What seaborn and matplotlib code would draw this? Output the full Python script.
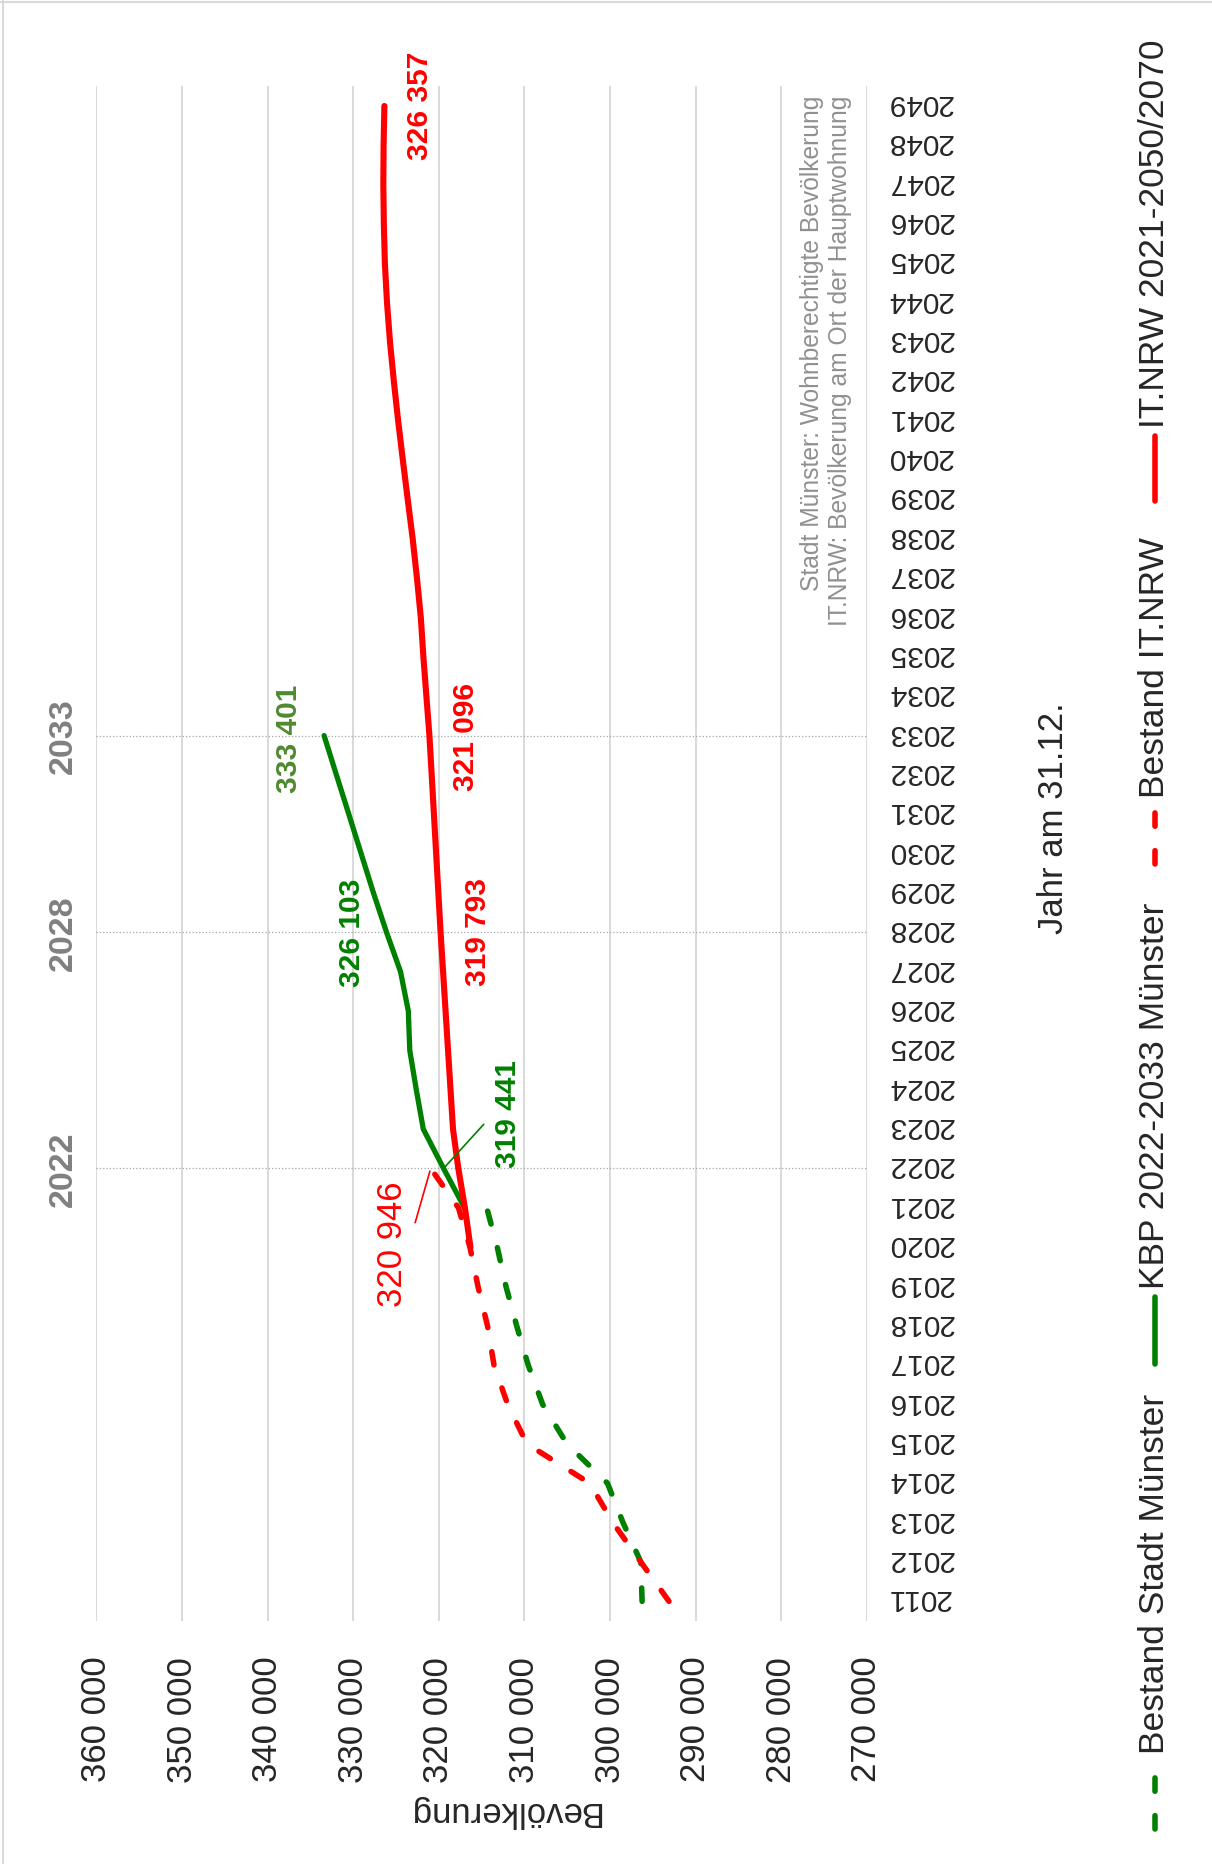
import pandas as pd
import seaborn as sns
import matplotlib.pyplot as plt
from matplotlib.lines import Line2D
from matplotlib.transforms import ScaledTranslation

# Daten
jahre_bestand = list(range(2011, 2022))
bestand_muenster = [296250, 296400, 298480, 300290, 305020, 307860,
                    309550, 310900, 312150, 313170, 314400]

jahre_bestand_it = list(range(2011, 2023))
bestand_itnrw = [293110, 296400, 299660, 302360, 309700, 311950,
                 313550, 314310, 315420, 316360, 317700, 320946]

jahre_kbp = list(range(2021, 2034))
kbp_muenster = [317000, 319441, 321810, 322630, 323390, 323560, 324470,
                326103, 327630, 329070, 330510, 331960, 333401]

jahre_it = list(range(2020, 2050))
itnrw_prognose = [316300, 316950, 317720, 318340, 318630, 318920, 319210,
                  319500, 319793, 320050, 320310, 320570, 320830, 321096,
                  321450, 321800, 322100, 322550, 323050, 323630, 324200,
                  324750, 325250, 325700, 326050, 326300, 326420, 326480,
                  326450, 326357]

pop_ticks = [360000, 350000, 340000, 330000, 320000, 310000, 300000,
             290000, 280000, 270000]
pop_labels = ['360 000', '350 000', '340 000', '330 000', '320 000',
              '310 000', '300 000', '290 000', '280 000', '270 000']
jahr_ticks = list(range(2011, 2050))
ref_jahre = [2022, 2028, 2033]

GRUEN = '#008000'
ROT = '#ff0000'
W, H = 1212, 1865


def fig_xy(x, y):
    return x / W, 1 - y / H


sns.set_style('white')
plt.rcParams['font.family'] = ['Liberation Sans', 'DejaVu Sans']

fig = plt.figure(figsize=(W / 100, H / 100), dpi=100)
ax = fig.add_axes([96.4 / W, 1 - 1622 / H, (866.8 - 96.4) / W, (1622 - 87.3) / H])

dash = (0, (2.4, 4.4))
sns.lineplot(x=bestand_muenster, y=jahre_bestand, sort=False, ax=ax, color=GRUEN,
             lw=4.0, linestyle=dash, dash_capstyle='round')
sns.lineplot(x=kbp_muenster, y=jahre_kbp, sort=False, ax=ax, color=GRUEN,
             lw=3.8, solid_capstyle='round')
sns.lineplot(x=bestand_itnrw, y=jahre_bestand_it, sort=False, ax=ax, color=ROT,
             lw=4.0, linestyle=dash, dash_capstyle='round')
sns.lineplot(x=itnrw_prognose, y=jahre_it, sort=False, ax=ax, color=ROT,
             lw=4.4, solid_capstyle='round')

ax.set_xlim(360000, 270000)
ax.set_ylim(2010.5, 2049.5)
ax.set_xticks(pop_ticks)
ax.set_xticklabels(pop_labels)
ax.set_yticks(jahr_ticks)
ax.set_yticklabels([str(j) for j in jahr_ticks])
ax.yaxis.tick_right()
ax.tick_params(axis='x', length=0, pad=25, labelrotation=90, labelsize=25)
ax.tick_params(axis='y', length=0, pad=14.4, labelrotation=180, labelsize=21.5)
hoch = ScaledTranslation(0, 4 / 100, fig.dpi_scale_trans)
for t in ax.get_yticklabels():
    t.set_va('center')
    t.set_transform(t.get_transform() + hoch)
ax.grid(axis='x', color='#d9d9d9', lw=1.4)
ax.grid(axis='y', visible=False)
for s in ax.spines.values():
    s.set_visible(False)

for j in ref_jahre:
    ax.axhline(j, color='#a6a6a6', lw=0.9, ls=':', zorder=1)
    ax.annotate(str(j), xy=(360000, j), xytext=(-33, 0), textcoords='offset pixels',
                rotation=90, ha='center', va='center', fontsize=24.5,
                fontweight='bold', color='#808080', annotation_clip=False)

ax.set_xlabel('Bevölkerung', rotation=180, fontsize=25)
ax.xaxis.set_label_coords(0.529, -0.1238)
ax.xaxis.label.set_va('center')
ax.yaxis.set_label_position('right')
ax.set_ylabel('Jahr am 31.12.', rotation=90, fontsize=25)
ax.yaxis.set_label_coords(1.2417, 0.5239)
ax.yaxis.label.set_va('center')

# Datenbeschriftungen
def label(txt, x, y, dx, dy, color, bold=True, size=21.5):
    ax.annotate(txt, xy=(x, y), xytext=(dx, dy), textcoords='offset pixels',
                rotation=90, ha='center', va='center', fontsize=size,
                fontweight='bold' if bold else 'normal', color=color)

label('333 401', kbp_muenster[-1], jahre_kbp[-1], -35, -2, '#4f8a2f')
label('326 103', kbp_muenster[7], jahre_kbp[7], -35, 1, GRUEN)
label('321 096', itnrw_prognose[13], jahre_it[13], 37, 0, ROT)
label('319 793', itnrw_prognose[8], jahre_it[8], 37, 1, ROT)
label('326 357', itnrw_prognose[-1], jahre_it[-1], 36, 1, ROT)

ax.annotate('319 441', xy=(kbp_muenster[1], jahre_kbp[1]), xytext=(64, 55),
            textcoords='offset pixels', rotation=90, ha='center', va='center',
            fontsize=21.5, fontweight='bold', color=GRUEN,
            arrowprops=dict(arrowstyle='-', color=GRUEN, lw=1.2, relpos=(0, 0.5),
                            shrinkA=7, shrinkB=2))
ax.annotate('320 946', xy=(bestand_itnrw[-1], jahre_bestand_it[-1]), xytext=(-38, -75),
            textcoords='offset pixels', rotation=90, ha='center', va='center',
            fontsize=25, color=ROT,
            arrowprops=dict(arrowstyle='-', color=ROT, lw=1.2, relpos=(1, 0.5),
                            shrinkA=7, shrinkB=2))

# Hinweise
fig.text(*fig_xy(811.5, 96), 'Stadt Münster: Wohnberechtigte Bevölkerung', rotation=90,
         ha='center', va='top', fontsize=17.7, color='#909090')
fig.text(*fig_xy(840, 96), 'IT.NRW: Bevölkerung am Ort der Hauptwohnung', rotation=90,
         ha='center', va='top', fontsize=17.7, color='#909090')

# Legende
LX = 1155
eintraege = [
    ('Bestand Stadt Münster', GRUEN, dash, 1830, 1767, 1754),
    ('KBP 2022-2033 Münster', GRUEN, '-', 1365, 1298, 1289),
    ('Bestand IT.NRW', ROT, dash, 865, 807, 798),
    ('IT.NRW 2021-2050/2070', ROT, '-', 502, 437, 428),
]
for txt, col, ls, y0, y1, ty in eintraege:
    x0, f0 = fig_xy(LX, y0)
    _, f1 = fig_xy(LX, y1)
    fig.add_artist(Line2D([x0, x0], [f0, f1], color=col, lw=4.0, linestyle=ls,
                          dash_capstyle='round', solid_capstyle='round'))
    fig.text(*fig_xy(LX, ty), txt, rotation=90, ha='center', va='bottom', fontsize=25.5)

# Rahmen
fig.add_artist(Line2D([0, 1], [fig_xy(0, 3)[1]] * 2, color='#d9d9d9', lw=1.5))
fig.add_artist(Line2D([fig_xy(3, 0)[0]] * 2, [0, 1], color='#d9d9d9', lw=1.5))

fig.savefig('out.png', dpi=100)
